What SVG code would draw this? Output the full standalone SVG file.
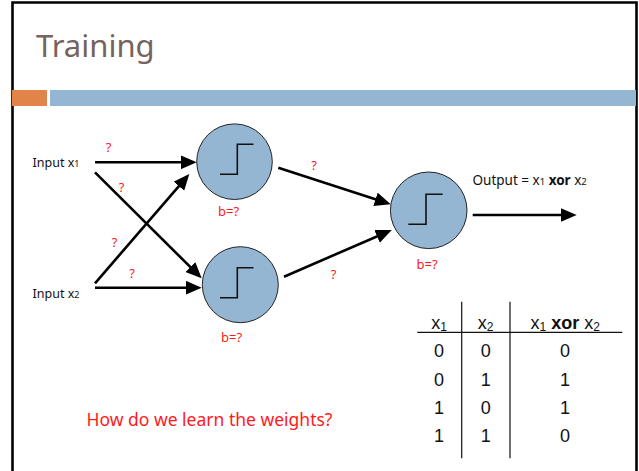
<svg xmlns="http://www.w3.org/2000/svg" width="639" height="471" viewBox="0 0 639 471">
  <style>
    .title { font-family: "Noto Sans", "DejaVu Sans", sans-serif; font-size: 31px; fill: #77625c; }
    .lbl { font-family: "Noto Sans", "DejaVu Sans", sans-serif; font-size: 12.5px; fill: #111; }
    .out { font-family: "Noto Sans", "DejaVu Sans", sans-serif; font-size: 13.5px; fill: #111; }
    .red { font-family: "Noto Sans", "DejaVu Sans", sans-serif; font-size: 13px; fill: #ff1a1a; text-anchor: middle; }
    .q { font-family: "Noto Sans", "DejaVu Sans", sans-serif; font-size: 17.5px; fill: #ff1a1a; }
    .tbl { font-family: "Liberation Sans", Arial, sans-serif; font-size: 18px; fill: #111; text-anchor: middle; }
    .neuron { fill: #94b6d2; stroke: #222; stroke-width: 1; }
    .step { fill: none; stroke: #111; stroke-width: 1.6; }
    .conn line { stroke: #000; stroke-width: 2.6; marker-end: url(#arrow); }
    .grid { stroke: #111; stroke-width: 1.2; }
  </style>
  <defs>
    <marker id="arrow" markerUnits="userSpaceOnUse" markerWidth="16" markerHeight="14" refX="8" refY="7" orient="auto">
      <path d="M0,0 L16,7 L0,14 Z" fill="#000"/>
    </marker>
  </defs>

  <rect width="639" height="471" fill="#fff"/>

  <!-- slide frame -->
  <path d="M12.5,475 V2.5 H636.5 V475" fill="none" stroke="#000" stroke-width="2.6"/>

  <!-- title and header bars -->
  <text class="title" x="36" y="57">Training</text>
  <rect x="12" y="90" width="35" height="16" fill="#e0844a"/>
  <rect x="50" y="90" width="586" height="16" fill="#94b6d2"/>

  <!-- inputs -->
  <g id="input1">
    <text class="lbl" x="32.5" y="167">Input x<tspan font-size="9">1</tspan></text>
  </g>
  <g id="input2">
    <text class="lbl" x="32.5" y="298">Input x<tspan font-size="9">2</tspan></text>
  </g>

  <!-- connectors -->
  <g id="connectors" class="conn">
    <line x1="95" y1="162.3" x2="188.7" y2="162.3"/>
    <line x1="95" y1="172.3" x2="196" y2="272.7"/>
    <line x1="95" y1="283.3" x2="184.1" y2="180.1"/>
    <line x1="95" y1="287.7" x2="193.7" y2="287.7"/>
    <line x1="278.3" y1="167.7" x2="383.1" y2="201.8"/>
    <line x1="284" y1="276.7" x2="384.4" y2="233.2"/>
    <line x1="472.7" y1="215" x2="568.7" y2="215"/>
  </g>

  <!-- weight labels -->
  <g id="weights" class="red">
    <text x="108.5" y="151.5">?</text>
    <text x="121.5" y="191.5">?</text>
    <text x="114.5" y="246.5">?</text>
    <text x="132" y="278">?</text>
    <text x="314" y="169.5">?</text>
    <text x="333.5" y="278.5">?</text>
  </g>

  <!-- hidden neuron 1 -->
  <g id="hidden1">
    <circle class="neuron" cx="234.5" cy="161.7" r="37.8"/>
    <path class="step" d="M220,174.3 H237.3 V144.3 H253.5"/>
    <text class="red" x="228.5" y="215.5">b=?</text>
  </g>

  <!-- hidden neuron 2 -->
  <g id="hidden2">
    <circle class="neuron" cx="240.3" cy="284.7" r="38"/>
    <path class="step" d="M220,297.7 H237.3 V267.7 H253.5"/>
    <text class="red" x="231.5" y="341.5">b=?</text>
  </g>

  <!-- output neuron -->
  <g id="output">
    <circle class="neuron" cx="428.7" cy="210.3" r="38.3"/>
    <path class="step" d="M408.3,224.3 H426 V194.3 H442.7"/>
    <text class="red" x="427" y="268.5">b=?</text>
    <text class="out" x="472.5" y="184.5">Output = x<tspan font-size="9.5">1</tspan> <tspan font-weight="bold">xor</tspan> x<tspan font-size="9.5">2</tspan></text>
  </g>

  <!-- truth table -->
  <g id="truth-table">
    <line class="grid" x1="417.3" y1="332.3" x2="622.3" y2="332.3"/>
    <line class="grid" x1="461.7" y1="301.7" x2="461.7" y2="458.3"/>
    <line class="grid" x1="510" y1="301.7" x2="510" y2="458.3"/>
    <text class="tbl" x="439" y="329">x<tspan font-size="12" dy="2">1</tspan></text>
    <text class="tbl" x="485.7" y="329">x<tspan font-size="12" dy="2">2</tspan></text>
    <text class="tbl" x="565.3" y="329">x<tspan font-size="12" dy="2">1</tspan><tspan dy="-2"> </tspan><tspan font-weight="bold">xor</tspan> x<tspan font-size="12" dy="2">2</tspan></text>
    <text class="tbl" x="439" y="356.5">0</text>
    <text class="tbl" x="485.7" y="356.5">0</text>
    <text class="tbl" x="565" y="356.5">0</text>
    <text class="tbl" x="439" y="385.5">0</text>
    <text class="tbl" x="485.7" y="385.5">1</text>
    <text class="tbl" x="565" y="385.5">1</text>
    <text class="tbl" x="439" y="413.5">1</text>
    <text class="tbl" x="485.7" y="413.5">0</text>
    <text class="tbl" x="565" y="413.5">1</text>
    <text class="tbl" x="439" y="442">1</text>
    <text class="tbl" x="485.7" y="442">1</text>
    <text class="tbl" x="565" y="442">0</text>
  </g>

  <!-- question -->
  <text class="q" x="86.5" y="425.5">How do we learn the weights?</text>
</svg>
